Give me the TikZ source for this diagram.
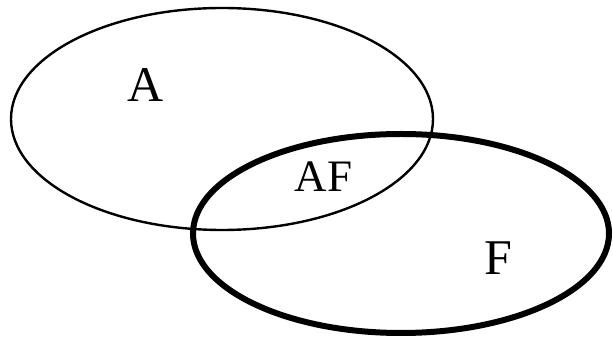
\documentclass[tikz,border=0pt]{standalone}
\usepackage{fontspec}
\setmainfont{Liberation Serif}
\begin{document}
\begin{tikzpicture}[x=1pt,y=1pt,
  setA/.style={draw=black,line width=2.4pt},
  setF/.style={draw=black,line width=6pt},
  lbl/.style={inner sep=0pt,font=\fontsize{50}{54}\selectfont},
  lblsmall/.style={inner sep=0pt,font=\fontsize{45}{48}\selectfont}]
\useasboundingbox (0,0) rectangle (613,339);
\draw[setA] (222,220) ellipse [x radius=211, y radius=111];
\draw[setF] (401,105.5) ellipse [x radius=208, y radius=99.5];
\node[lbl] (a) at (146,254) {A};
\node[lblsmall] (af) at (323.5,162) {AF};
\node[lbl] (f) at (498,81) {F};
\end{tikzpicture}
\end{document}
